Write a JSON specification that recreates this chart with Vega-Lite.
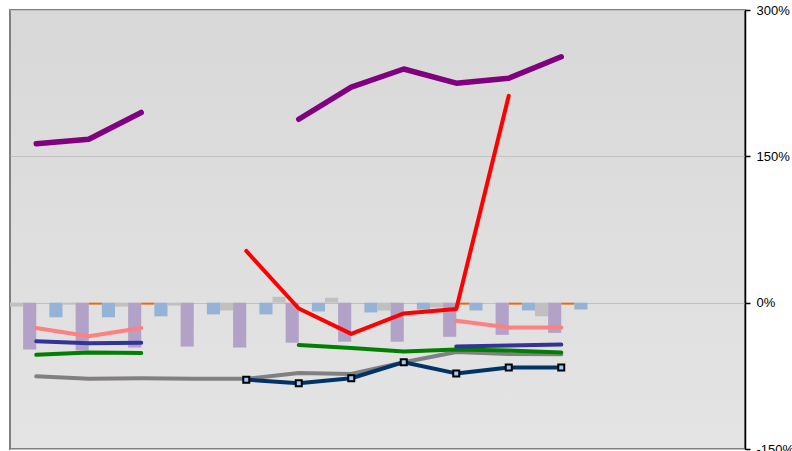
{
  "$schema": "https://vega.github.io/schema/vega-lite/v6.json",
  "width": 735,
  "height": 439,
  "padding": {"left": 10, "top": 10, "right": 47, "bottom": 2},
  "autosize": {"type": "none"},
  "background": "white",
  "config": {
    "view": {
      "stroke": "#808080",
      "strokeWidth": 2,
      "fill": {"gradient": "linear", "x1": 0, "y1": 0, "x2": 0, "y2": 1, "stops": [{"offset": 0, "color": "#d8d8d8"}, {"offset": 1, "color": "#e4e4e4"}]}
    },
    "font": "Liberation Sans"
  },
  "datasets": {
    "bars": [
      {"cat": "c1", "series": "gray", "value": -4}, {"cat": "c1", "series": "purple", "value": -48}, {"cat": "c1", "series": "blue", "value": -15},
      {"cat": "c2", "series": "gray", "value": -2}, {"cat": "c2", "series": "purple", "value": -49}, {"cat": "c2", "series": "orange", "value": -2}, {"cat": "c2", "series": "blue", "value": -15},
      {"cat": "c3", "series": "gray", "value": -4}, {"cat": "c3", "series": "purple", "value": -46}, {"cat": "c3", "series": "orange", "value": -2}, {"cat": "c3", "series": "blue", "value": -14},
      {"cat": "c4", "series": "gray", "value": -3}, {"cat": "c4", "series": "purple", "value": -45}, {"cat": "c4", "series": "blue", "value": -12},
      {"cat": "c5", "series": "gray", "value": -8}, {"cat": "c5", "series": "purple", "value": -46}, {"cat": "c5", "series": "blue", "value": -12},
      {"cat": "c6", "series": "gray", "value": 6}, {"cat": "c6", "series": "purple", "value": -41}, {"cat": "c6", "series": "blue", "value": -9},
      {"cat": "c7", "series": "gray", "value": 5}, {"cat": "c7", "series": "purple", "value": -40}, {"cat": "c7", "series": "blue", "value": -10},
      {"cat": "c8", "series": "gray", "value": -8}, {"cat": "c8", "series": "purple", "value": -40}, {"cat": "c8", "series": "blue", "value": -7},
      {"cat": "c9", "series": "gray", "value": -5}, {"cat": "c9", "series": "purple", "value": -35}, {"cat": "c9", "series": "orange", "value": -2}, {"cat": "c9", "series": "blue", "value": -8},
      {"cat": "c10", "series": "purple", "value": -33}, {"cat": "c10", "series": "orange", "value": -2}, {"cat": "c10", "series": "blue", "value": -8},
      {"cat": "c11", "series": "gray", "value": -14}, {"cat": "c11", "series": "purple", "value": -31}, {"cat": "c11", "series": "orange", "value": -2}, {"cat": "c11", "series": "blue", "value": -7}
    ],
    "lines": [
      {"cat": "c1", "series": "L_gray", "seg": "g", "value": -75.5},
      {"cat": "c2", "series": "L_gray", "seg": "g", "value": -78},
      {"cat": "c3", "series": "L_gray", "seg": "g", "value": -77.5},
      {"cat": "c4", "series": "L_gray", "seg": "g", "value": -78},
      {"cat": "c5", "series": "L_gray", "seg": "g", "value": -78},
      {"cat": "c6", "series": "L_gray", "seg": "g", "value": -72},
      {"cat": "c7", "series": "L_gray", "seg": "g", "value": -73},
      {"cat": "c8", "series": "L_gray", "seg": "g", "value": -61},
      {"cat": "c9", "series": "L_gray", "seg": "g", "value": -50.5},
      {"cat": "c10", "series": "L_gray", "seg": "g", "value": -52.5},
      {"cat": "c11", "series": "L_gray", "seg": "g", "value": -53},
      {"cat": "c5", "series": "L_navy", "seg": "n", "value": -79},
      {"cat": "c6", "series": "L_navy", "seg": "n", "value": -82.5},
      {"cat": "c7", "series": "L_navy", "seg": "n", "value": -77.5},
      {"cat": "c8", "series": "L_navy", "seg": "n", "value": -61},
      {"cat": "c9", "series": "L_navy", "seg": "n", "value": -72.5},
      {"cat": "c10", "series": "L_navy", "seg": "n", "value": -66.5},
      {"cat": "c11", "series": "L_navy", "seg": "n", "value": -66.5},
      {"cat": "c1", "series": "L_green", "seg": "ga", "value": -53.5},
      {"cat": "c2", "series": "L_green", "seg": "ga", "value": -51},
      {"cat": "c3", "series": "L_green", "seg": "ga", "value": -51.5},
      {"cat": "c6", "series": "L_green", "seg": "gb", "value": -43.5},
      {"cat": "c7", "series": "L_green", "seg": "gb", "value": -46.5},
      {"cat": "c8", "series": "L_green", "seg": "gb", "value": -50},
      {"cat": "c9", "series": "L_green", "seg": "gb", "value": -48},
      {"cat": "c10", "series": "L_green", "seg": "gb", "value": -49},
      {"cat": "c11", "series": "L_green", "seg": "gb", "value": -51},
      {"cat": "c1", "series": "L_indigo", "seg": "ia", "value": -39.5},
      {"cat": "c2", "series": "L_indigo", "seg": "ia", "value": -41.5},
      {"cat": "c3", "series": "L_indigo", "seg": "ia", "value": -41},
      {"cat": "c9", "series": "L_indigo", "seg": "ib", "value": -45},
      {"cat": "c10", "series": "L_indigo", "seg": "ib", "value": -44},
      {"cat": "c11", "series": "L_indigo", "seg": "ib", "value": -43},
      {"cat": "c1", "series": "L_pink", "seg": "pa", "value": -26},
      {"cat": "c2", "series": "L_pink", "seg": "pa", "value": -34.5},
      {"cat": "c3", "series": "L_pink", "seg": "pa", "value": -26},
      {"cat": "c9", "series": "L_pink", "seg": "pb", "value": -18.5},
      {"cat": "c10", "series": "L_pink", "seg": "pb", "value": -25.5},
      {"cat": "c11", "series": "L_pink", "seg": "pb", "value": -25.5},
      {"cat": "c5", "series": "L_red", "seg": "r", "value": 53},
      {"cat": "c6", "series": "L_red", "seg": "r", "value": -6},
      {"cat": "c7", "series": "L_red", "seg": "r", "value": -32},
      {"cat": "c8", "series": "L_red", "seg": "r", "value": -11},
      {"cat": "c9", "series": "L_red", "seg": "r", "value": -6.5},
      {"cat": "c10", "series": "L_red", "seg": "r", "value": 212}
    ],
    "purple": [
      {"cat": "c1", "seg": "a", "value": 163},
      {"cat": "c2", "seg": "a", "value": 167.5},
      {"cat": "c3", "seg": "a", "value": 195},
      {"cat": "c6", "seg": "b", "value": 188},
      {"cat": "c7", "seg": "b", "value": 221},
      {"cat": "c8", "seg": "b", "value": 239.5},
      {"cat": "c9", "seg": "b", "value": 225},
      {"cat": "c10", "seg": "b", "value": 230},
      {"cat": "c11", "seg": "b", "value": 252}
    ]
  },
  "encoding": {
    "x": {
      "field": "cat", "type": "nominal",
      "scale": {"domain": ["c1","c2","c3","c4","c5","c6","c7","c8","c9","c10","c11","c12","c13","c14"], "paddingInner": 0, "paddingOuter": 0},
      "axis": null
    },
    "y": {
      "field": "value", "type": "quantitative",
      "scale": {"domain": [-150, 300], "nice": false, "zero": false},
      "axis": {
        "orient": "right", "title": null, "values": [-150, 0, 150, 300],
        "labelExpr": "datum.value + '%'",
        "grid": true, "gridColor": "#c0c0c0", "gridWidth": 1,
        "domainColor": "#000000", "domainWidth": 1.5,
        "tickColor": "#000000", "tickSize": 5, "tickWidth": 1.5,
        "labelFontSize": 13, "labelColor": "#000000", "labelPadding": 6, "labelFont": "Liberation Sans"
      }
    }
  },
  "layer": [
    {
      "data": {"name": "bars"},
      "mark": {"type": "bar"},
      "encoding": {
        "xOffset": {"field": "series", "type": "nominal", "scale": {"domain": ["gray", "purple", "orange", "blue"], "paddingInner": 0, "paddingOuter": 0}},
        "color": {"field": "series", "type": "nominal", "scale": {"domain": ["gray", "purple", "orange", "blue"], "range": ["#c0c0c0", "#b3a2c7", "#e46c0a", "#95b3d7"]}, "legend": null}
      }
    },
    {
      "data": {"name": "lines"},
      "mark": {"type": "line", "strokeWidth": 4, "strokeCap": "round", "strokeJoin": "round"},
      "encoding": {
        "detail": {"field": "seg"},
        "stroke": {"field": "series", "type": "nominal", "scale": {"domain": ["L_gray", "L_navy", "L_green", "L_indigo", "L_pink", "L_red"], "range": ["#808080", "#003366", "#008000", "#333399", "#ff8080", "#ff0000"]}, "legend": null}
      }
    },
    {
      "data": {"name": "lines"},
      "transform": [{"filter": "datum.series === 'L_navy'"}],
      "mark": {"type": "point", "shape": "square", "size": 36, "filled": true, "fill": "#99ccff", "stroke": "#000000", "strokeWidth": 2, "opacity": 1}
    },
    {
      "data": {"name": "purple"},
      "mark": {"type": "line", "strokeWidth": 5.5, "strokeCap": "round", "strokeJoin": "round", "color": "#800080"},
      "encoding": {"detail": {"field": "seg"}}
    }
  ]
}
